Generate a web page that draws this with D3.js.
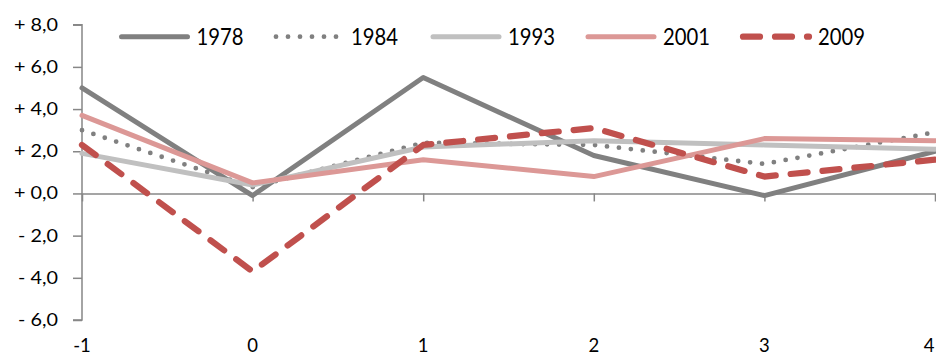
<!DOCTYPE html>
<html>
<head>
<meta charset="utf-8">
<script src="https://cdn.jsdelivr.net/npm/d3@7"></script>
<style>
  html, body { margin: 0; padding: 0; background: #fff; }
  svg { display: block; }
  text { font-family: Lato, "Open Sans", sans-serif; fill: #000; }
</style>
</head>
<body>
<svg id="chart" width="936" height="358"></svg>
<script>
// ---- data ----
const xValues = [-1, 0, 1, 2, 3, 4];
const yTicks = [-6, -4, -2, 0, 2, 4, 6, 8];
const yTickLabels = ["- 6,0", "- 4,0", "- 2,0", "+ 0,0", "+ 2,0", "+ 4,0", "+ 6,0", "+ 8,0"];
const xTickLabels = ["-1", "0", "1", "2", "3", "4"];
const seriesNames = ["1978", "1984", "1993", "2001", "2009"];
const s1978 = [5.0, -0.1, 5.5, 1.8, -0.1, 2.0];
const s1984 = [3.0, 0.3, 2.4, 2.3, 1.4, 2.9];
const s1993 = [1.9, 0.4, 2.2, 2.5, 2.3, 2.1];
const s2001 = [3.7, 0.5, 1.6, 0.8, 2.6, 2.5];
const s2009 = [2.3, -3.7, 2.3, 3.1, 0.8, 1.6];
const seriesValues = [s1978, s1984, s1993, s2001, s2009];

// ---- styles ----
const styles = [
  { color: "#808080", width: 5,   dash: null,    cap: "round" },
  { color: "#808080", width: 4.8, dash: "0,12",  cap: "round" },
  { color: "#c0c0c0", width: 5,   dash: null,    cap: "round" },
  { color: "#dc9896", width: 5,   dash: null,    cap: "round" },
  { color: "#c0504d", width: 6.2, dash: "17,15", cap: "round" }
];

const svg = d3.select("#chart");
const x = d3.scaleLinear().domain([-1, 4]).range([82, 935]);
const y = d3.scaleLinear().domain([-6, 8]).range([320, 24.7]);
const axisColor = "#878787";

// y axis
const yAxis = d3.axisLeft(y).tickValues(yTicks).tickSize(9).tickFormat("");
const gy = svg.append("g").attr("transform", `translate(${x(-1)},0)`).call(yAxis);
gy.select(".domain").attr("stroke", axisColor).attr("stroke-width", 1.5).attr("d", `M-9,${y(8)}H0V${y(-6)}H-9`);
gy.selectAll(".tick line").attr("stroke", axisColor).attr("stroke-width", 1.5);

// x axis at y=0
const xAxis = d3.axisBottom(x).tickValues(xValues).tickSize(8).tickSizeOuter(0).tickFormat("");
const gx = svg.append("g").attr("transform", `translate(0,${y(0)})`).call(xAxis);
gx.select(".domain").attr("stroke", axisColor).attr("stroke-width", 1.5);
gx.selectAll(".tick line").attr("stroke", axisColor).attr("stroke-width", 1.5);

// y labels
const yl = svg.append("g");
const ylt = yl.selectAll("text").data(yTicks).join("text")
  .attr("x", 58).attr("y", d => y(d) + 5.9)
  .attr("text-anchor", "end").attr("font-size", 16.5)
  .text((d, i) => yTickLabels[i]);
const ref = ylt.filter((d, i) => i === 7).node().getComputedTextLength();
const yFactor = 44 / ref;
ylt.each(function() {
  const w = this.getComputedTextLength();
  d3.select(this).attr("textLength", w * yFactor).attr("lengthAdjust", "spacingAndGlyphs");
});

// x labels
svg.append("g").selectAll("text").data(xValues).join("text")
  .attr("x", d => Math.min(x(d), 929)).attr("y", 352)
  .attr("text-anchor", "middle").attr("font-size", 18.5)
  .text((d, i) => xTickLabels[i]);

// lines
const line = d3.line().x((d, i) => x(xValues[i])).y(d => y(d));
svg.append("g").selectAll("path").data(seriesValues).join("path")
  .attr("d", d => line(d))
  .attr("fill", "none")
  .attr("stroke", (d, i) => styles[i].color)
  .attr("stroke-width", (d, i) => styles[i].width)
  .attr("stroke-dasharray", (d, i) => styles[i].dash)
  .attr("stroke-linecap", (d, i) => styles[i].cap)
  .attr("stroke-linejoin", "round");

// legend
const legendStarts = [119.5, 274, 431, 586, 741];
const legendY = 36.7;
const lg = svg.append("g");
seriesNames.forEach((name, i) => {
  const st = styles[i];
  const x0 = legendStarts[i];
  lg.append("line")
    .attr("x1", x0 + 2).attr("x2", x0 + 68).attr("y1", legendY).attr("y2", legendY)
    .attr("stroke", st.color).attr("stroke-width", st.width)
    .attr("stroke-dasharray", st.dash).attr("stroke-linecap", st.cap);
  lg.append("text").attr("x", x0 + 77).attr("y", 45)
    .attr("font-size", 23).text(name);
});
const lref = lg.select("text").node().getComputedTextLength();
const lFactor = 47 / lref;
lg.selectAll("text").each(function() {
  const w = this.getComputedTextLength();
  d3.select(this).attr("textLength", w * lFactor).attr("lengthAdjust", "spacingAndGlyphs");
});
</script>
</body>
</html>
